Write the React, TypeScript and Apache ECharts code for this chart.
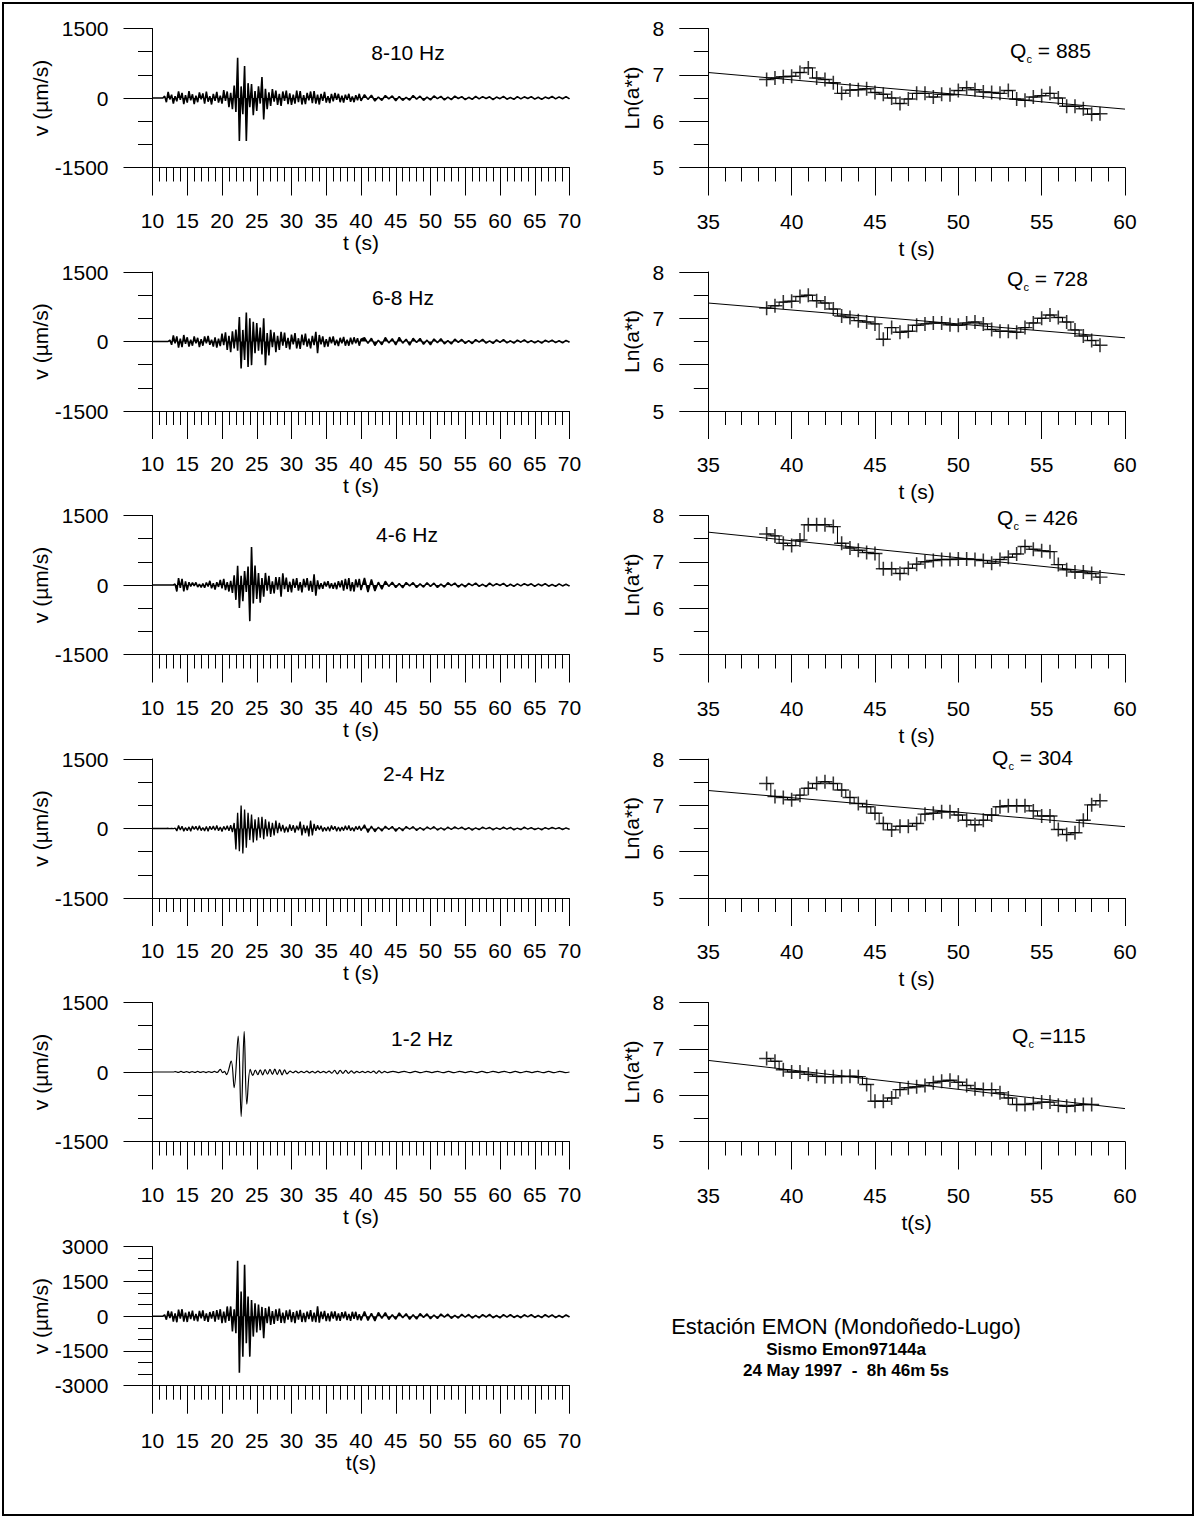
import React, { useEffect, useRef } from "react";
import * as echarts from "echarts";

const FONT = '"Liberation Sans", Arial, Helvetica, sans-serif';

// ---------------- seismogram data (µm/s) ----------------
// alternating peak samples (positive = local maxima, negative = local minima)
// "early" samples: t = 10.00 ... 40.00 s every 0.25 s (121 values)
// "late" samples:  t = 40.5 ... 70.0 s every 0.5 s (60 values)
const EARLY_T0 = 10;
const EARLY_DT = 0.25;
const LATE_T0 = 40.5;
const LATE_DT = 0.5;

const band810Early = [
  0, 0, 0, 0, 0, 0, 0, 40, -90, 130, -30, 70, -120, 40, -70, 140, -40, 110, -130, 60,
  -100, 150, -50, 80, -130, 50, -90, 120, -30, 100, -120, 140, -80, 40, -140, 90, -60, 130, -100, 50,
  -120, 170, -60, 140, -200, 110, -240, 270, -300, 870, -925, 250, -350, 690, -925, 320, -200, 300, -370, 150,
  -280, 250, -120, 450, -465, 200, -240, 120, -170, 190, -80, 160, -150, 90, -170, 140, -60, 160, -130, 100,
  -150, 70, -120, 160, -90, 150, -140, 60, -130, 110, -50, 140, -110, 150, -120, 70, -140, 90, -60, 130,
  -100, 40, -110, 90, -70, 110, -40, 90, -90, 50, -100, 70, -40, 90, -80, 30, -90, 60, -50, 90, -60,
];
const band810Late = [
  70, -30, 60, -65, 20, -50, 55, -20, 45, -60, 30, -50, 15, -45, 55, -25, 40, -50, 20, -40,
  45, -15, 35, -40, 20, -35, 40, -10, 30, -35, 15, -30, 35, -20, 30, -10, 25, -35, 20, -15,
  35, -25, 10, -30, 30, -20, 25, -10, 30, -25, 15, -30, 20, -10, 35, -20, 25, -15, 30, -20,
];

const band68Early = [
  0, 0, 0, 0, 0, 0, 0, 0, 0, 0, 30, -70, 130, -40, 110, -130, 60, -120, 140, -50,
  90, -110, 40, -90, 110, -40, 80, -120, 50, -90, 110, -40, 120, -70, 40, -110, 90, -130, 60, -100,
  170, -80, 200, -180, 120, -230, 220, -150, 260, -200, 530, -580, 250, -400, 625, -550, 500, -510, 425, -250,
  400, -200, 300, -280, 500, -510, 180, -300, 250, -120, 200, -230, 120, -180, 210, -90, 190, -140, 80, -170,
  150, -60, 180, -150, 70, -160, 150, -80, 170, -110, 60, -150, 120, -80, 210, -250, 140, -60, 110, -120,
  50, -110, 100, -40, 110, -80, 40, -100, 80, -40, 100, -90, 40, -90, 80, -60, 90, -40, 70, -90, 50,
];
const band68Late = [
  80, -40, 70, -85, 30, -70, 85, -30, 60, -75, 90, -35, 50, -80, 70, -20, 65, -60, 30, -70,
  55, -25, 60, -50, 20, -55, 50, -20, 45, -40, 20, -45, 40, -15, 45, -35, 15, -40, 35, -20,
  40, -30, 15, -35, 30, -15, 35, -25, 20, -30, 15, -35, 25, -10, 30, -25, 15, -30, 25, -15,
];

const band46Early = [
  0, 0, 0, 0, 0, 0, 0, 0, 0, 0, 0, 0, 0, 20, -140, 150, -60, 130, -140, 80,
  -110, 60, -30, 50, -20, 55, -45, 20, -50, 30, -60, 55, -30, 90, -70, 40, -100, 60, -40, 110,
  -70, 130, -110, 60, -140, 90, -170, 210, -320, 416, -495, 200, -350, 300, -150, 400, -780, 820, -400, 420,
  -300, 260, -380, 150, -250, 260, -120, 200, -190, 80, -180, 170, -100, 170, -250, 250, -90, 160, -150, 70,
  -160, 130, -60, 150, -120, 60, -160, 130, -50, 150, -120, 90, -150, 230, -230, 100, -90, 40, -80, 70,
  -30, 80, -70, 40, -80, 50, -90, 80, -50, 100, -120, 130, -90, 150, -130, 60, -140, 120, -50, 130, -110,
];
const band46Late = [
  150, -150, 120, -130, 60, -90, 80, -30, 60, -55, 30, -60, 55, -20, 50, -55, 25, -45, 50, -30,
  40, -55, 20, -45, 50, -15, 40, -45, 20, -40, 35, -15, 40, -30, 15, -35, 40, -20, 30, -10,
  35, -30, 15, -30, 25, -20, 30, -10, 25, -30, 20, -15, 30, -25, 10, -30, 25, -20, 15, -25,
];

const band24Early = [
  0, 0, 0, 0, 0, 0, 0, 0, 0, 5, -5, 5, -5, 10, -55, 65, -30, 50, -60, 20,
  -50, 35, -60, 55, -20, 50, -40, 60, -45, 20, -55, 45, -60, 50, -25, 55, -40, 65, -50, 30,
  -65, 45, -30, 60, -50, 70, -80, 120, -452, 337, -488, 495, -538, 409, -416, 337, -250, 300, -300, 200,
  -260, 240, -200, 250, -230, 200, -170, 150, -180, 120, -150, 170, -100, 120, -60, 80, -90, 40, -80, 90,
  -50, 70, -90, 60, -40, 150, -150, 80, -100, 60, -170, 170, -150, 100, -50, 70, -30, 60, -65, 25,
  -55, 40, -60, 65, -25, 50, -60, 35, -60, 30, -45, 60, -35, 65, -50, 20, -60, 45, -25, 55, -45,
];
const band24Late = [
  80, -85, 50, -70, 30, -55, 50, -20, 45, -60, 25, -50, 45, -15, 40, -45, 20, -40, 35, -15,
  40, -35, 15, -35, 30, -20, 35, -10, 30, -25, 20, -35, 15, -25, 30, -10, 25, -30, 15, -20,
  30, -15, 25, -30, 10, -25, 30, -15, 20, -25, 10, -30, 20, -15, 25, -10, 20, -25, 15, -20,
];

// 1-2 Hz trace: extrema, [t (s), v (µm/s)]
const peaks12: [number, number][] = [
  [10, 0], [13, 0], [13.3, 10], [13.7, -10], [14.1, 12], [14.5, -10], [14.9, 10], [15.3, -12],
  [15.7, 10], [16.1, -10], [16.5, 12], [16.9, -10], [17.3, 10], [17.7, -12], [18.1, 10], [18.5, -10],
  [18.9, 12], [19.3, -10], [19.75, 55], [20.1, -15], [20.35, 12], [20.65, -55], [21.32, 237],
  [21.75, -337], [22.33, 775], [22.76, -962], [23.19, 876], [23.57, -696], [24.05, 57], [24.44, -72],
  [24.8, 40], [25.15, -55], [25.5, 45], [25.85, -60], [26.2, 50], [26.55, -45], [26.9, 55], [27.25, -50],
  [27.6, 60], [27.95, -55], [28.3, 50], [28.65, -60], [29.0, 45], [29.35, -40], [29.8, 20], [30.2, -15],
  [30.6, 18], [31.0, -20], [31.4, 15], [31.8, -15], [32.2, 20], [32.6, -18], [33.0, 15], [33.4, -20],
  [33.8, 18], [34.2, -15], [34.6, 15], [35.0, -18], [35.4, 20], [35.8, -25], [36.2, 35], [36.6, -40],
  [37.0, 35], [37.4, -30], [37.8, 35], [38.2, -30], [38.6, 25], [39.0, -25], [39.4, 15], [39.8, -15],
  [40.2, 15], [40.6, -12], [41.0, 15], [41.4, -15], [41.8, 20], [42.2, -28], [42.6, 25], [43.0, -18],
  [43.4, 15], [43.8, -12], [44.6, 15], [45.4, -12], [46.2, 15], [47.0, -15], [47.8, 12], [48.6, -15],
  [49.4, 15], [50.2, -12], [51.0, 15], [51.8, -15], [52.6, 12], [53.4, -15], [54.2, 15], [55.0, -12],
  [55.8, 15], [56.6, -15], [57.4, 12], [58.2, -15], [59.0, 15], [59.8, -12], [60.6, 15], [61.4, -15],
  [62.2, 12], [63.0, -15], [63.8, 15], [64.6, -12], [65.4, 15], [66.2, -15], [67.0, 12], [67.8, -15],
  [68.6, 15], [69.4, -12], [70, 0],
];

const bandAllEarly = [
  0, 0, 0, 0, 0, 0, 0, 60, -150, 230, -80, 200, -230, 120, -260, 280, -100, 300, -230, 150,
  -250, 200, -120, 240, -190, 100, -220, 230, -90, 250, -200, 120, -240, 180, -100, 220, -230, 260, -150, 300,
  -300, 200, -280, 420, -200, 420, -663, 300, -735, 2394, -2437, 1067, -1745, 2220, -1168, 850, -1745, 700, -880, 560,
  -700, 500, -600, 400, -950, 350, -300, 420, -380, 220, -330, 300, -200, 330, -290, 150, -300, 250, -150, 280,
  -260, 180, -300, 230, -150, 270, -250, 140, -260, 200, -120, 260, -230, 150, -260, 430, -280, 200, -120, 230,
  -210, 120, -220, 200, -100, 210, -190, 120, -200, 170, -90, 200, -170, 100, -200, 190, -110, 190, -170, 90, -180,
];
const bandAllLate = [
  200, -180, 120, -200, 160, -90, 150, -140, 60, -130, 140, -70, 110, -130, 60, -120, 110, -50, 100, -110,
  50, -95, 90, -40, 85, -90, 40, -80, 85, -45, 75, -80, 40, -75, 70, -35, 80, -65, 30, -70,
  65, -40, 70, -55, 30, -65, 60, -30, 65, -55, 30, -60, 65, -35, 55, -60, 30, -55, 60, -35,
];

// ---------------- coda Q data: Ln(a*t), t = 38.5 s onwards every 0.5 s ----------------
const QC_T0 = 38.5;
const QC_DT = 0.5;
const lnAt885 = [
  6.9, 6.93, 6.96, 6.97, 7.05, 7.15, 6.93, 6.9, 6.83, 6.6, 6.67, 6.68, 6.7, 6.62, 6.58, 6.5, 6.38, 6.48, 6.6, 6.6,
  6.52, 6.58, 6.57, 6.66, 6.72, 6.68, 6.63, 6.62, 6.6, 6.66, 6.48, 6.45, 6.52, 6.55, 6.6, 6.5, 6.32, 6.32, 6.27, 6.15, 6.16,
];
const lnAt728 = [
  7.22, 7.27, 7.35, 7.37, 7.47, 7.5, 7.38, 7.33, 7.2, 7.05, 7.02, 6.95, 6.92, 6.88, 6.55, 6.8, 6.7, 6.72, 6.85, 6.88,
  6.9, 6.9, 6.86, 6.85, 6.9, 6.92, 6.88, 6.76, 6.72, 6.72, 6.7, 6.8, 6.9, 7.0, 7.07, 7.02, 6.92, 6.75, 6.62, 6.52, 6.42,
];
const lnAt426 = [
  7.6, 7.56, 7.4, 7.35, 7.47, 7.8, 7.8, 7.8, 7.76, 7.4, 7.3, 7.25, 7.2, 7.18, 6.85, 6.85, 6.75, 6.86, 6.95, 7.0,
  7.03, 7.05, 7.05, 7.06, 7.06, 7.05, 7.03, 6.97, 7.05, 7.1, 7.17, 7.33, 7.27, 7.24, 7.22, 6.94, 6.83, 6.78, 6.78, 6.75, 6.67,
];
const lnAt304 = [
  7.47, 7.19, 7.17, 7.12, 7.22, 7.37, 7.47, 7.51, 7.47, 7.33, 7.17, 7.04, 6.97, 6.83, 6.61, 6.47, 6.55, 6.55, 6.61, 6.81,
  6.83, 6.86, 6.86, 6.79, 6.68, 6.58, 6.68, 6.79, 6.97, 6.99, 6.99, 6.99, 6.88, 6.77, 6.77, 6.48, 6.37, 6.41, 6.68, 7.01, 7.1,
];
const lnAt115 = [
  6.79, 6.73, 6.55, 6.5, 6.5, 6.45, 6.41, 6.4, 6.4, 6.4, 6.41, 6.4, 6.23, 5.87, 5.87, 5.94, 6.12, 6.16, 6.18, 6.21,
  6.27, 6.3, 6.32, 6.28, 6.21, 6.14, 6.12, 6.12, 6.05, 5.94, 5.8, 5.8, 5.82, 5.85, 5.85, 5.78, 5.76, 5.78, 5.8, 5.8,
];
// regression line values at t = 35 s and t = 60 s
const fit885 = [7.05, 6.26];
const fit728 = [7.33, 6.58];
const fit426 = [7.64, 6.72];
const fit304 = [7.32, 6.54];
const fit115 = [6.75, 5.71];
const fitT = [35, 60];

const bandLabels = ["8-10 Hz", "6-8 Hz", "4-6 Hz", "2-4 Hz", "1-2 Hz"];
const qcTexts = [" = 885", " = 728", " = 426", " = 304", " =115"];
const rightXNames = ["t (s)", "t (s)", "t (s)", "t (s)", "t(s)"];

// ---------------- layout ----------------
const LEFT_X = 152.5;
const LEFT_W = 417;
const RIGHT_X = 708.3;
const RIGHT_W = 416.7;
const PH = 139;
const ROW_TOP = [28.5, 272, 515.5, 759, 1002.5];
const ALL_TOP = 1246.7;
const BAND_LABEL_POS = [
  [408, 52],
  [403, 297],
  [407, 534],
  [414, 773],
  [422, 1038],
];
const QC_POS = [
  [1050, 50],
  [1047, 278],
  [1037, 517],
  [1032, 757],
  [1052, 1035],
];

function sampleSeries(early: number[], late: number[]) {
  const pts: number[][] = early.map((v, i) => [EARLY_T0 + i * EARLY_DT, v]);
  late.forEach((v, j) => pts.push([LATE_T0 + j * LATE_DT, v]));
  return pts;
}
function qcSeries(vals: number[]) {
  return vals.map((v, i) => [QC_T0 + i * QC_DT, v]);
}

const txt = (size = 21) => ({ color: "#000", fontFamily: FONT, fontSize: size });
const blackLine = { color: "#000", width: 1 };
const plain = (v: number) => String(v);

function xAxisDef(grid: number, min: number, max: number, name: string, margin: number, gap: number) {
  return {
    type: "value",
    gridIndex: grid,
    min,
    max,
    interval: 5,
    axisLine: { show: true, onZero: false, lineStyle: blackLine },
    axisTick: { show: true, length: 28, lineStyle: blackLine },
    minorTick: { show: true, splitNumber: 5, length: 14, lineStyle: blackLine },
    splitLine: { show: false },
    minorSplitLine: { show: false },
    axisLabel: { ...txt(21), margin, formatter: plain },
    name,
    nameLocation: "middle",
    nameGap: gap,
    nameTextStyle: txt(21),
  };
}
function yAxisDef(grid: number, min: number, max: number, interval: number, minorSplit: number, name: string, gap: number) {
  return {
    type: "value",
    gridIndex: grid,
    min,
    max,
    interval,
    axisLine: { show: true, onZero: false, lineStyle: blackLine },
    axisTick: { show: true, length: 29, lineStyle: blackLine },
    minorTick: { show: true, splitNumber: minorSplit, length: 14.5, lineStyle: blackLine },
    splitLine: { show: false },
    minorSplitLine: { show: false },
    axisLabel: { ...txt(21), margin: 44, formatter: plain },
    name,
    nameLocation: "middle",
    nameRotate: 90,
    nameGap: gap,
    nameTextStyle: txt(21),
  };
}

function denseTrace(grid: number, data: number[][], width: number) {
  return {
    type: "line",
    xAxisIndex: grid,
    yAxisIndex: grid,
    data,
    symbol: "none",
    lineStyle: { color: "#000", width },
    areaStyle: { color: "#000", opacity: 1 },
    silent: true,
  };
}

function buildOption() {
  const denseTraces = [
    sampleSeries(band810Early, band810Late),
    sampleSeries(band68Early, band68Late),
    sampleSeries(band46Early, band46Late),
    sampleSeries(band24Early, band24Late),
  ];
  const qcData = [lnAt885, lnAt728, lnAt426, lnAt304, lnAt115];
  const fits = [fit885, fit728, fit426, fit304, fit115];

  const grid: any[] = [];
  const xAxis: any[] = [];
  const yAxis: any[] = [];
  const series: any[] = [];

  // left band-pass traces (grids 0..4)
  ROW_TOP.forEach((top, i) => {
    grid.push({ left: LEFT_X, top, width: LEFT_W, height: PH });
    xAxis.push(xAxisDef(i, 10, 70, "t (s)", 42, 64));
    yAxis.push(yAxisDef(i, -1500, 1500, 1500, 3, "v (µm/s)", 97));
    if (i < 4) {
      series.push(denseTrace(i, denseTraces[i], i === 3 ? 1.3 : 1.6));
    } else {
      series.push({
        type: "line",
        xAxisIndex: i,
        yAxisIndex: i,
        data: peaks12,
        symbol: "none",
        smooth: 0.35,
        lineStyle: { color: "#000", width: 1.2 },
        silent: true,
      });
    }
  });
  // unfiltered trace (grid 5)
  grid.push({ left: LEFT_X, top: ALL_TOP, width: LEFT_W, height: PH });
  xAxis.push(xAxisDef(5, 10, 70, "t(s)", 44, 66));
  yAxis.push(yAxisDef(5, -3000, 3000, 1500, 3, "v (µm/s)", 97));
  series.push(denseTrace(5, sampleSeries(bandAllEarly, bandAllLate), 1.6));

  // right coda-Q panels (grids 6..10)
  ROW_TOP.forEach((top, r) => {
    const g = 6 + r;
    grid.push({ left: RIGHT_X, top, width: RIGHT_W, height: PH });
    xAxis.push(xAxisDef(g, 35, 60, rightXNames[r], 43, 70));
    yAxis.push(yAxisDef(g, 5, 8, 1, 2, "Ln(a*t)", 66));
    const pts = qcSeries(qcData[r]);
    series.push({
      type: "line",
      xAxisIndex: g,
      yAxisIndex: g,
      data: pts,
      step: "middle",
      symbol: "none",
      lineStyle: { color: "#000", width: 1 },
      silent: true,
    });
    series.push({
      type: "scatter",
      xAxisIndex: g,
      yAxisIndex: g,
      data: pts,
      symbol: "path://M0,7L15,7M7.5,0L7.5,14",
      symbolSize: [15, 14],
      itemStyle: { color: "rgba(0,0,0,0)", borderColor: "#000", borderWidth: 1.5 },
      silent: true,
    });
    series.push({
      type: "line",
      xAxisIndex: g,
      yAxisIndex: g,
      data: fitT.map((t, k) => [t, fits[r][k]]),
      symbol: "none",
      lineStyle: { color: "#000", width: 1 },
      silent: true,
    });
  });

  const graphic: any[] = [
    {
      type: "rect",
      shape: { x: 3, y: 3, width: 1190, height: 1512 },
      style: { fill: "none", stroke: "#000", lineWidth: 2 },
      silent: true,
      z: 100,
    },
  ];
  bandLabels.forEach((label, i) => {
    graphic.push({
      type: "text",
      x: BAND_LABEL_POS[i][0],
      y: BAND_LABEL_POS[i][1],
      style: { text: label, fill: "#000", fontFamily: FONT, fontSize: 21, align: "center", verticalAlign: "middle" },
      silent: true,
    });
  });
  qcTexts.forEach((t, i) => {
    const [cx, cy] = QC_POS[i];
    const x0 = cx - 40;
    graphic.push({
      type: "text",
      x: x0,
      y: cy,
      style: { text: "Q", fill: "#000", fontFamily: FONT, fontSize: 21, align: "left", verticalAlign: "middle" },
      silent: true,
    });
    graphic.push({
      type: "text",
      x: x0 + 16.5,
      y: cy + 9,
      style: { text: "c", fill: "#000", fontFamily: FONT, fontSize: 11, align: "left", verticalAlign: "middle" },
      silent: true,
    });
    graphic.push({
      type: "text",
      x: x0 + 22,
      y: cy,
      style: { text: t, fill: "#000", fontFamily: FONT, fontSize: 21, align: "left", verticalAlign: "middle" },
      silent: true,
    });
  });
  graphic.push(
    {
      type: "text",
      x: 846,
      y: 1326,
      style: { text: "Estación EMON (Mondoñedo-Lugo)", fill: "#000", fontFamily: FONT, fontSize: 22, align: "center", verticalAlign: "middle" },
      silent: true,
    },
    {
      type: "text",
      x: 846,
      y: 1349,
      style: { text: "Sismo Emon97144a", fill: "#000", fontFamily: FONT, fontSize: 17, fontWeight: "bold", align: "center", verticalAlign: "middle" },
      silent: true,
    },
    {
      type: "text",
      x: 846,
      y: 1370,
      style: { text: "24 May 1997  -  8h 46m 5s", fill: "#000", fontFamily: FONT, fontSize: 17, fontWeight: "bold", align: "center", verticalAlign: "middle" },
      silent: true,
    }
  );

  return {
    animation: false,
    backgroundColor: "#fff",
    grid,
    xAxis,
    yAxis,
    series,
    graphic,
  };
}

export default function App() {
  const ref = useRef<HTMLDivElement>(null);
  useEffect(() => {
    const chart = echarts.init(ref.current as HTMLDivElement, null, { renderer: "svg" });
    chart.setOption(buildOption() as any);
    return () => chart.dispose();
  }, []);
  return (
    <div
      ref={ref}
      style={{ position: "absolute", left: 0, top: 0, width: 1196, height: 1519, background: "#fff" }}
    />
  );
}
